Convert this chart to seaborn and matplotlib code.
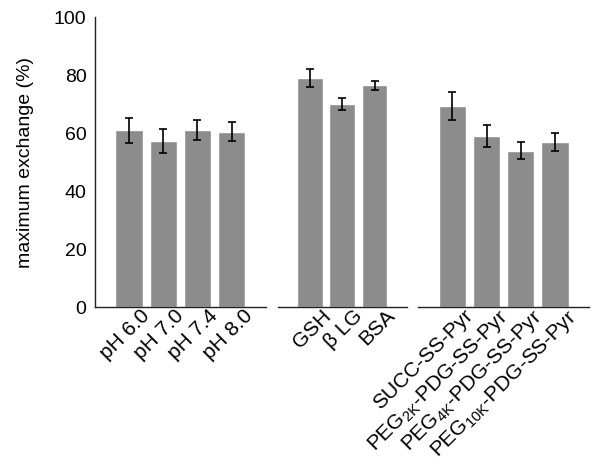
import numpy as np
import pandas as pd
import seaborn as sns
import matplotlib.pyplot as plt
import matplotlib.transforms as mtransforms

# bar values (mean, error)
ph_labels = ['pH 6.0', 'pH 7.0', 'pH 7.4', 'pH 8.0']
ph_means = [61.0, 57.3, 61.0, 60.5]
ph_errs = [4.4, 4.0, 3.5, 3.2]

thiol_labels = ['GSH', '\u03b2 LG', 'BSA']
thiol_means = [79.0, 70.0, 76.5]
thiol_errs = [3.0, 2.0, 1.5]

polymer_labels = ['SUCC-SS-Pyr',
                  'PEG$_{\\mathregular{2K}}$-PDG-SS-Pyr',
                  'PEG$_{\\mathregular{4K}}$-PDG-SS-Pyr',
                  'PEG$_{\\mathregular{10K}}$-PDG-SS-Pyr']
polymer_means = [69.4, 59.1, 54.0, 57.1]
polymer_errs = [4.7, 3.8, 2.8, 3.1]

sns.set_style('white')
plt.rcParams['font.family'] = ['Liberation Sans', 'DejaVu Sans']
plt.rcParams['mathtext.fontset'] = 'custom'
plt.rcParams['mathtext.rm'] = 'Liberation Sans'
plt.rcParams['text.color'] = 'black'
plt.rcParams['xtick.color'] = 'black'
plt.rcParams['ytick.color'] = 'black'
plt.rcParams['axes.labelcolor'] = 'black'

fig = plt.figure(figsize=(6, 4.66), dpi=100)
bottom, height = 0.341, 0.622
ax1 = fig.add_axes([0.158, bottom, 0.285, height])
ax2 = fig.add_axes([0.463, bottom, 0.215, height])
ax3 = fig.add_axes([0.697, bottom, 0.285, height])

groups = [(ax1, ph_labels, ph_means, ph_errs, (-1, 4)),
          (ax2, thiol_labels, thiol_means, thiol_errs, (-1, 3)),
          (ax3, polymer_labels, polymer_means, polymer_errs, (-1, 4))]

for i, (ax, labels, means, errs, xl) in enumerate(groups):
    df = pd.DataFrame({'label': labels, 'value': means})
    sns.barplot(data=df, x='label', y='value', color='#8c8c8c', saturation=1,
                width=0.8, errorbar=None, ax=ax)
    ax.errorbar(np.arange(len(labels)), means, yerr=errs, fmt='none',
                ecolor='black', elinewidth=1.2, capsize=3, capthick=1.2)
    ax.set_xlim(*xl)
    ax.set_ylim(0, 100)
    ax.set_xlabel('')
    ax.set_ylabel('')
    for s in ['top', 'right']:
        ax.spines[s].set_visible(False)
    ax.spines['bottom'].set_color('#222222')
    ax.spines['bottom'].set_linewidth(1.0)
    ax.tick_params(axis='x', length=0, pad=3)
    offset = mtransforms.ScaledTranslation(0.11, 0.05, fig.dpi_scale_trans)
    for t in ax.get_xticklabels():
        t.set_rotation(45)
        t.set_ha('right')
        t.set_va('top')
        t.set_rotation_mode('anchor')
        t.set_fontsize(15)
        t.set_transform(t.get_transform() + offset)
    if i == 0:
        ax.spines['left'].set_color('#222222')
        ax.spines['left'].set_linewidth(1.0)
        ax.set_yticks([0, 20, 40, 60, 80, 100])
        ax.tick_params(axis='y', direction='in', length=2, width=0.8,
                       labelsize=14, pad=6)
        ax.set_ylabel('maximum exchange (%)', fontsize=14, labelpad=14)
    else:
        ax.spines['left'].set_visible(False)
        ax.set_yticks([])

fig.savefig('out.png', dpi=100)
